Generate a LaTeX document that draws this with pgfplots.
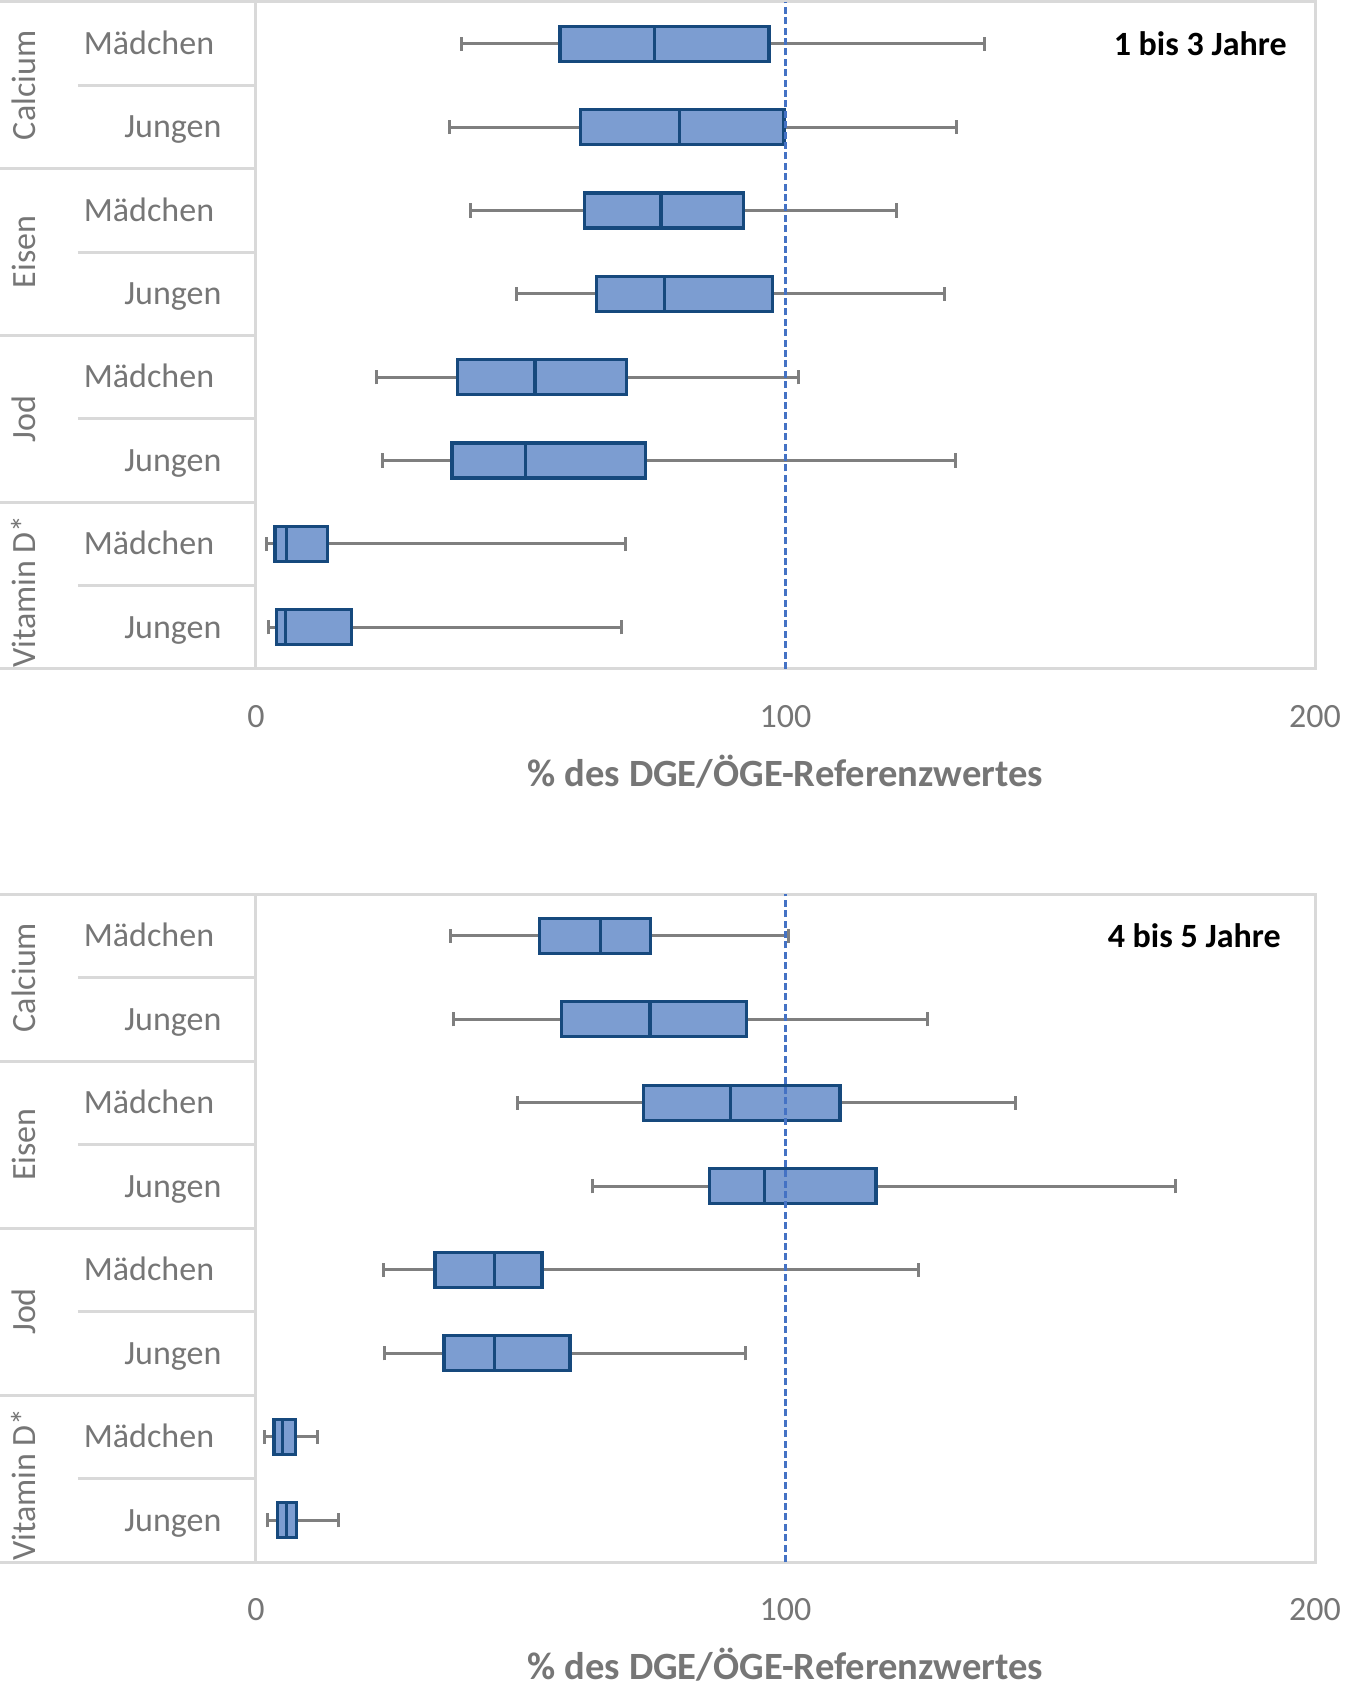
\documentclass[border=0pt]{standalone}
\usepackage{fontspec}
\setmainfont{Carlito}
\usepackage{pgfplots}
\pgfplotsset{compat=1.18}
\usepgfplotslibrary{statistics}

\definecolor{boxfill}{HTML}{7C9DD1}
\definecolor{boxline}{HTML}{16497D}
\definecolor{whisk}{HTML}{7F7F7F}
\definecolor{frame}{HTML}{D9D9D9}
\definecolor{txt}{HTML}{767676}
\definecolor{refblue}{HTML}{4472C4}

\newcommand{\lab}{\fontsize{17}{20}\selectfont}

% one box: position, lower whisker, Q1, median, Q3, upper whisker
\newcommand{\bx}[6]{\addplot[boxplot prepared={draw position=#1,
  lower whisker=#2, lower quartile=#3, median=#4,
  upper quartile=#5, upper whisker=#6}] coordinates {};}

\pgfplotsset{
  panel/.style={
    scale only axis, width=529.5pt,
    xmin=0, xmax=200, ymin=0.5, ymax=8.5,
    xtick={0,100,200}, ytick=\empty, major tick length=0pt,
    axis line style={draw=frame, line width=1.5pt},
    clip=false,
    tick label style={font=\lab, text=txt},
    /pgf/number format/assume math mode=true,
    xticklabel style={anchor=center, yshift=-24pt},
    xlabel={\% des DGE/ÖGE-Referenzwertes},
    xlabel style={font=\fontsize{19.3}{23}\selectfont\bfseries, text=txt,
      at={(axis description cs:0.5,0)}, anchor=center, yshift=-51.5pt},
    boxplot/box extend=0.42,
    boxplot/whisker extend=0.17,
    boxplot/every box/.style={draw=boxline, fill=boxfill, line width=1.6pt},
    boxplot/every whisker/.style={draw=whisk, line width=1.5pt},
    boxplot/every median/.style={draw=boxline, line width=1.6pt},
  },
}

% separators, category names and the 100 % line
\newcommand{\labelgrid}{%
  \draw[frame, line width=1.5pt] ([xshift=-128pt]axis cs:0,8.5) -- (axis cs:0,8.5);
  \draw[frame, line width=1.5pt] ([xshift=-128pt]axis cs:0,0.5) -- (axis cs:0,0.5);
  \draw[frame, line width=1.5pt] ([xshift=-128pt]axis cs:0,6.5) -- (axis cs:0,6.5);
  \draw[frame, line width=1.5pt] ([xshift=-128pt]axis cs:0,4.5) -- (axis cs:0,4.5);
  \draw[frame, line width=1.5pt] ([xshift=-128pt]axis cs:0,2.5) -- (axis cs:0,2.5);
  \draw[frame, line width=1.5pt] ([xshift=-89pt]axis cs:0,7.5) -- ([xshift=-1pt]axis cs:0,7.5);
  \draw[frame, line width=1.5pt] ([xshift=-89pt]axis cs:0,5.5) -- ([xshift=-1pt]axis cs:0,5.5);
  \draw[frame, line width=1.5pt] ([xshift=-89pt]axis cs:0,3.5) -- ([xshift=-1pt]axis cs:0,3.5);
  \draw[frame, line width=1.5pt] ([xshift=-89pt]axis cs:0,1.5) -- ([xshift=-1pt]axis cs:0,1.5);
  \node[rotate=90, text=txt, font=\lab, inner sep=0pt] at ([xshift=-116pt]axis cs:0,7.5) {Calcium};
  \node[rotate=90, text=txt, font=\lab, inner sep=0pt] at ([xshift=-116pt]axis cs:0,5.5) {Eisen};
  \node[rotate=90, text=txt, font=\lab, inner sep=0pt] at ([xshift=-116pt]axis cs:0,3.5) {Jod};
  \node[rotate=90, text=txt, font=\lab, inner sep=0pt] at ([xshift=-116pt,yshift=-3pt]axis cs:0,1.5) {Vitamin D*};
  \node[anchor=base west, text=txt, font=\lab, inner sep=0pt] at ([xshift=-86.25pt,yshift=-5.4pt]axis cs:0,8) {Mädchen};
  \node[anchor=base west, text=txt, font=\lab, inner sep=0pt] at ([xshift=-66pt,yshift=-5.4pt]axis cs:0,7) {Jungen};
  \node[anchor=base west, text=txt, font=\lab, inner sep=0pt] at ([xshift=-86.25pt,yshift=-5.4pt]axis cs:0,6) {Mädchen};
  \node[anchor=base west, text=txt, font=\lab, inner sep=0pt] at ([xshift=-66pt,yshift=-5.4pt]axis cs:0,5) {Jungen};
  \node[anchor=base west, text=txt, font=\lab, inner sep=0pt] at ([xshift=-86.25pt,yshift=-5.4pt]axis cs:0,4) {Mädchen};
  \node[anchor=base west, text=txt, font=\lab, inner sep=0pt] at ([xshift=-66pt,yshift=-5.4pt]axis cs:0,3) {Jungen};
  \node[anchor=base west, text=txt, font=\lab, inner sep=0pt] at ([xshift=-86.25pt,yshift=-5.4pt]axis cs:0,2) {Mädchen};
  \node[anchor=base west, text=txt, font=\lab, inner sep=0pt] at ([xshift=-66pt,yshift=-5.4pt]axis cs:0,1) {Jungen};
  \draw[refblue, line width=1.3pt, dash pattern=on 3.5pt off 1.7pt] (axis cs:100,0.5) -- (axis cs:100,8.5);
}

\begin{document}
\begin{tikzpicture}
\useasboundingbox (-128pt,1pt) rectangle (545pt,-847pt);

% 1 bis 3 Jahre
\begin{axis}[panel, name=top, at={(0,0)}, anchor=north west, height=333.5pt]
\bx{8}{38.8}{57.4}{75.3}{96.9}{137.6}
\bx{7}{36.5}{61.3}{80.0}{99.7}{132.2}
\bx{6}{40.6}{62.0}{76.5}{92.1}{120.9}
\bx{5}{49.2}{64.3}{77.1}{97.6}{130.0}
\bx{4}{22.7}{38.0}{52.7}{70.0}{102.4}
\bx{3}{23.8}{37.0}{50.9}{73.6}{132.1}
\bx{2}{2.0}{3.6}{5.8}{13.5}{69.8}
\bx{1}{2.3}{3.8}{5.5}{18.0}{69.0}
\labelgrid
\node[anchor=east, font=\lab\bfseries, inner sep=0pt] at ([xshift=-14pt]axis cs:200,8) {1 bis 3 Jahre};
\end{axis}

% 4 bis 5 Jahre
\begin{axis}[panel, name=bottom, at={(0,-446pt)}, anchor=north west, height=334pt]
\bx{8}{36.8}{53.6}{65.1}{74.5}{100.6}
\bx{7}{37.3}{57.7}{74.4}{92.6}{126.8}
\bx{6}{49.3}{73.2}{89.6}{110.3}{143.4}
\bx{5}{63.6}{85.6}{96.1}{117.1}{173.7}
\bx{4}{24.1}{33.8}{45.1}{54.0}{125.2}
\bx{3}{24.3}{35.5}{45.1}{59.3}{92.4}
\bx{2}{1.6}{3.4}{5.0}{7.4}{11.6}
\bx{1}{2.2}{4.1}{5.8}{7.6}{15.6}
\labelgrid
\node[anchor=east, font=\lab\bfseries, inner sep=0pt] at ([xshift=-17pt]axis cs:200,8) {4 bis 5 Jahre};
\end{axis}
\end{tikzpicture}
\end{document}
